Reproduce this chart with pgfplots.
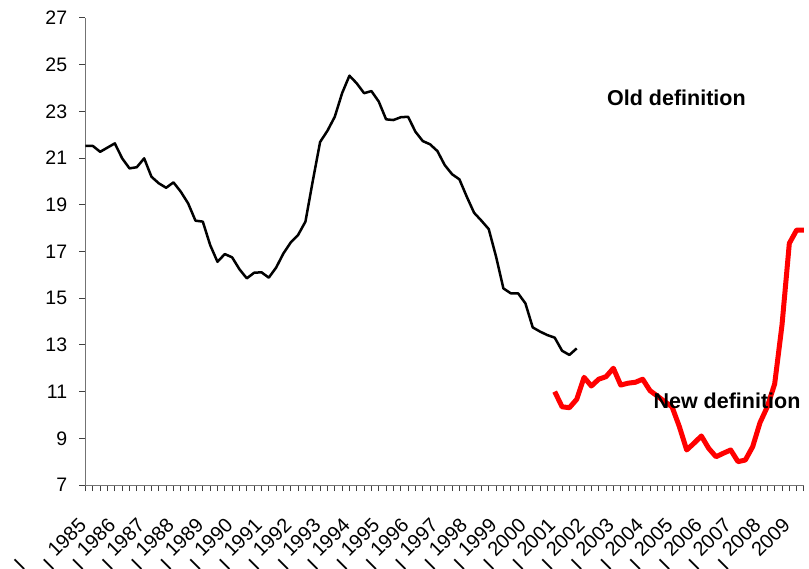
\documentclass[border=0pt]{standalone}
\usepackage{fontspec}
\setmainfont{Liberation Sans}
\usepackage{pgfplots}
\pgfplotsset{compat=1.18}
\newcommand{\yl}[1]{\smash{\raisebox{0.7em}{I}}\hspace{1.4em}#1}
\begin{document}
\begin{tikzpicture}
\begin{axis}[
  scale only axis, width=359.25pt, height=233.5pt,
  xmin=0, xmax=98, ymin=7, ymax=27,
  axis lines*=left,
  axis line style={black!55, line width=0.5pt},
  tick align=outside,
  major tick length=3pt, minor tick length=3pt,
  tick style={black!75, line width=0.5pt},
  xtick={0,4,...,96},
  minor xtick={0,...,98},
  xticklabels={\yl{1985},\yl{1986},\yl{1987},\yl{1988},\yl{1989},\yl{1990},\yl{1991},\yl{1992},\yl{1993},\yl{1994},\yl{1995},\yl{1996},\yl{1997},\yl{1998},\yl{1999},\yl{2000},\yl{2001},\yl{2002},\yl{2003},\yl{2004},\yl{2005},\yl{2006},\yl{2007},\yl{2008},\yl{2009}},
  ytick={7,9,...,27},
  tick label style={font=\fontsize{9.75}{11}\selectfont},
  /pgf/number format/assume math mode=true,
  xticklabel style={xshift=-4pt, yshift=-12.5pt, rotate=45, anchor=north east, inner sep=0pt, font=\fontsize{10}{11}\selectfont},
  yticklabel style={inner sep=0pt, xshift=-6pt},
  clip=false,
]
% old definition
\addplot[black, line width=1.25pt, line join=round] coordinates {
(0,21.52) (1,21.52) (2,21.27) (3,21.45) (4,21.63) (5,20.99) (6,20.56) (7,20.61)
(8,20.99) (9,20.20) (10,19.92) (11,19.73) (12,19.96) (13,19.56) (14,19.06) (15,18.32)
(16,18.28) (17,17.28) (18,16.56) (19,16.89) (20,16.75) (21,16.24) (22,15.85) (23,16.09)
(24,16.11) (25,15.88) (26,16.31) (27,16.92) (28,17.39) (29,17.71) (30,18.28) (31,20.02)
(32,21.69) (33,22.17) (34,22.77) (35,23.78) (36,24.53) (37,24.20) (38,23.78) (39,23.87)
(40,23.42) (41,22.66) (42,22.63) (43,22.75) (44,22.77) (45,22.13) (46,21.73) (47,21.59)
(48,21.30) (49,20.70) (50,20.31) (51,20.09) (52,19.35) (53,18.66) (54,18.32) (55,17.96)
(56,16.78) (57,15.42) (58,15.21) (59,15.21) (60,14.78) (61,13.75) (62,13.57) (63,13.42)
(64,13.31) (65,12.75) (66,12.57) (67,12.85)};
% new definition
\addplot[red, line width=2.5pt, line join=round] coordinates {
(64,11.00) (65,10.35) (66,10.31) (67,10.67) (68,11.61) (69,11.24) (70,11.53) (71,11.64)
(72,12.00) (73,11.28) (74,11.36) (75,11.40) (76,11.53) (77,11.04) (78,10.81) (79,10.57)
(80,10.35) (81,9.50) (82,8.50) (83,8.79) (84,9.10) (85,8.57) (86,8.21) (87,8.36)
(88,8.50) (89,8.00) (90,8.07) (91,8.64) (92,9.67) (93,10.35) (94,11.33) (95,13.85)
(96,17.35) (97,17.92) (98,17.92)};
\node[font=\fontsize{10.75}{12}\selectfont\bfseries] at (axis cs:80.6,23.57) {Old definition};
\node[font=\fontsize{10.75}{12}\selectfont\bfseries, inner sep=0pt] at (axis cs:87.5,10.62) {New definition};
\end{axis}
\pgfresetboundingbox
\path (-42.75pt,-41.5pt) rectangle (361.75pt,242.5pt);
\end{tikzpicture}
\end{document}
